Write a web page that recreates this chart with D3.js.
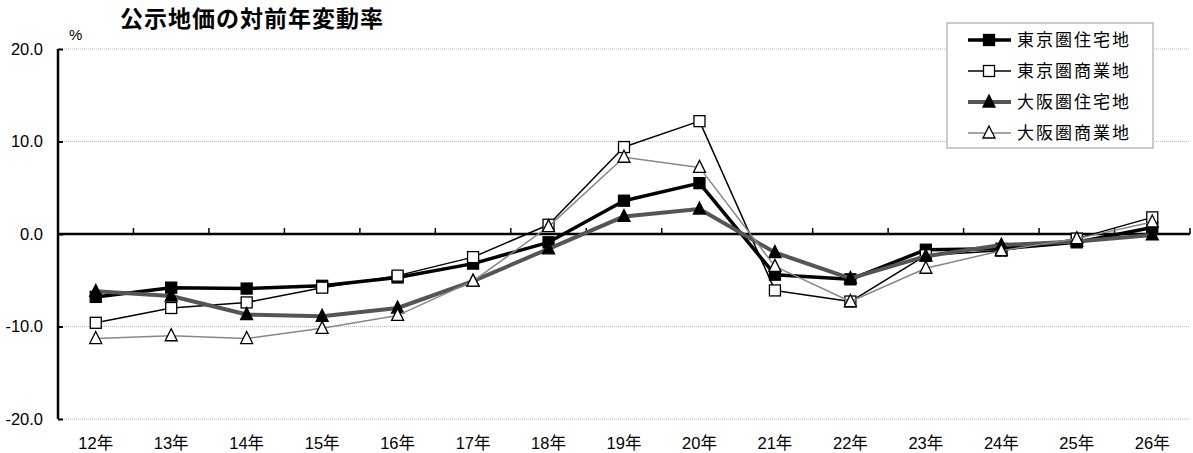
<!DOCTYPE html>
<html><head><meta charset="utf-8">
<script src="https://cdn.jsdelivr.net/npm/d3@7/dist/d3.min.js"></script>
<style>
body{margin:0;background:#fff;}
svg{display:block;font-family:"Liberation Sans","Noto Sans CJK JP",sans-serif;}
</style></head><body>
<svg id="c" width="1193" height="453"></svg>
<script>
const categories = ["12年","13年","14年","15年","16年","17年","18年","19年","20年","21年","22年","23年","24年","25年","26年"];
const tokyoRes  = [-6.8,-5.8,-5.9,-5.6,-4.7,-3.2,-0.9,3.6,5.5,-4.4,-4.9,-1.7,-1.6,-0.9,0.7];
const tokyoCom  = [-9.6,-8.0,-7.4,-5.8,-4.5,-2.5,1.0,9.4,12.2,-6.1,-7.3,-2.3,-1.8,-0.5,1.8];
const osakaRes  = [-6.2,-6.7,-8.7,-8.9,-8.0,-5.1,-1.6,1.9,2.7,-2.0,-4.8,-2.4,-1.2,-0.8,-0.1];
const osakaCom  = [-11.3,-11.0,-11.3,-10.2,-8.8,-5.1,0.8,8.3,7.2,-3.5,-7.3,-3.7,-1.8,-0.5,1.3];
const seriesNames = ["東京圏住宅地","東京圏商業地","大阪圏住宅地","大阪圏商業地"];
const yTicks = [20,10,0,-10,-20];
const yTickLabels = ["20.0","10.0","0.0","-10.0","-20.0"];

const series = [
  {name:seriesNames[0], values:tokyoRes, stroke:"#000", sw:3.5, shape:"square", fill:"#000", size:11},
  {name:seriesNames[1], values:tokyoCom, stroke:"#000", sw:1.5, shape:"square", fill:"#fff", size:11},
  {name:seriesNames[2], values:osakaRes, stroke:"#555", sw:4, shape:"triangle", fill:"#000", size:12},
  {name:seriesNames[3], values:osakaCom, stroke:"#888", sw:1.5, shape:"triangle", fill:"#fff", size:12}
];

const svg = d3.select("#c");
const x = d3.scaleBand().domain(categories).range([58,1190]).padding(0);
const y = d3.scaleLinear().domain([-20,20]).range([419,49]);
const cx = d => x(d) + x.bandwidth()/2;

// gridlines
svg.append("g").selectAll("line").data(yTicks.filter(v=>v!==0)).join("line")
  .attr("x1",58).attr("x2",1190).attr("y1",d=>y(d)).attr("y2",d=>y(d))
  .attr("stroke","#bbb").attr("stroke-width",1).attr("stroke-dasharray","1,1");

// y axis
const yAxis = d3.axisRight(y).tickValues(yTicks).tickSize(5).tickFormat("");
const ya = svg.append("g").attr("transform","translate(58,0)").call(yAxis);
ya.select(".domain").attr("stroke","#000").attr("stroke-width",2.5).attr("d",`M0,${y(20)}V${y(-20)}`);
ya.selectAll(".tick line").attr("stroke","#000").attr("stroke-width",2);

svg.append("g").selectAll("text").data(yTicks).join("text")
  .attr("x",43).attr("y",d=>y(d)).attr("dy","0.36em").attr("text-anchor","end")
  .attr("font-size",16.5).attr("fill","#000").text((d,i)=>yTickLabels[i]);

// zero line with category boundary ticks
const bounds = categories.map(c=>x(c)).concat([x.range()[1]]).slice(1);
svg.append("g").selectAll("line").data(bounds).join("line")
  .attr("x1",d=>d).attr("x2",d=>d).attr("y1",y(0)).attr("y2",y(0)-6)
  .attr("stroke","#000").attr("stroke-width",1.5);
svg.append("line").attr("x1",58).attr("x2",1190).attr("y1",y(0)).attr("y2",y(0))
  .attr("stroke","#000").attr("stroke-width",2.5);

// x labels
svg.append("g").selectAll("text").data(categories).join("text")
  .attr("x",d=>cx(d)).attr("y",449).attr("text-anchor","middle")
  .attr("font-size",16.5).attr("fill","#000").text(d=>d);

function marker(g, s, px, py){
  if(s.shape==="square"){
    const h = s.size/2;
    g.append("rect").attr("x",px-h).attr("y",py-h).attr("width",s.size).attr("height",s.size)
      .attr("fill",s.fill).attr("stroke","#000").attr("stroke-width",1.3);
  } else {
    const r = s.size/2;
    g.append("path").attr("d",`M${px},${py-r-1}L${px+r},${py+r-1}L${px-r},${py+r-1}Z`)
      .attr("fill",s.fill).attr("stroke","#000").attr("stroke-width",1.3);
  }
}

const line = d3.line().x((d,i)=>cx(categories[i])).y(d=>y(d));
series.forEach(s=>{
  const g = svg.append("g");
  g.append("path").datum(s.values).attr("d",line).attr("fill","none")
    .attr("stroke",s.stroke).attr("stroke-width",s.sw).attr("stroke-linejoin","round");
  s.values.forEach((v,i)=>marker(g,s,cx(categories[i]),y(v)));
});

// title and unit
svg.append("text").attr("x",120).attr("y",27).attr("font-size",23).attr("font-weight","bold")
  .attr("letter-spacing",1).attr("fill","#000").text("公示地価の対前年変動率");
svg.append("text").attr("x",69).attr("y",40).attr("font-size",15).attr("fill","#000").text("%");

// legend
const lg = svg.append("g");
lg.append("rect").attr("x",947).attr("y",23).attr("width",206).attr("height",125)
  .attr("fill","#fff").attr("stroke","#999").attr("stroke-width",1);
const rowY = d3.scalePoint().domain(seriesNames).range([40,133]);
series.forEach(s=>{
  const yy = rowY(s.name);
  const g = lg.append("g");
  g.append("line").attr("x1",968).attr("x2",1011).attr("y1",yy).attr("y2",yy)
    .attr("stroke",s.stroke).attr("stroke-width",s.sw);
  marker(g,s,989,yy);
  g.append("text").attr("x",1017).attr("y",yy).attr("dy","0.36em").attr("font-size",17)
    .attr("letter-spacing",2).attr("fill","#000").text(s.name);
});
</script></body></html>
